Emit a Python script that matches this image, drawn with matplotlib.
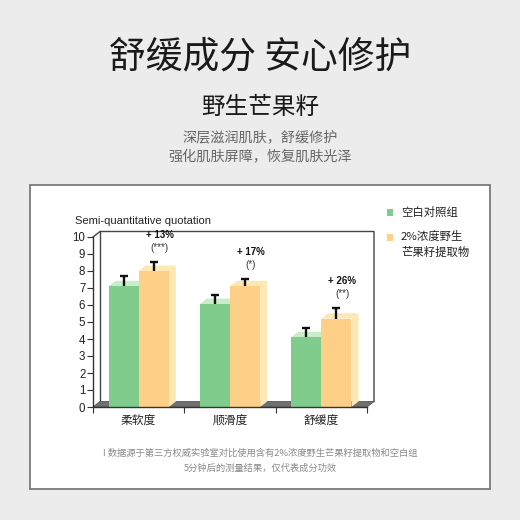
import numpy as np
import matplotlib
matplotlib.use("Agg")
import matplotlib.pyplot as plt
from matplotlib.patches import Rectangle

plt.rcParams['font.family'] = ['Liberation Sans', 'Noto Sans CJK SC', 'DejaVu Sans']

# ---- data ----
categories = ['柔软度', '顺滑度', '舒缓度']
control = [7.1, 6.05, 4.1]
control_err = [0.6, 0.55, 0.55]
extract = [8.0, 7.1, 5.2]
extract_err = [0.55, 0.45, 0.65]
increase_labels = ['+ 13%', '+ 17%', '+ 26%']
significance = ['(***)', '(*)', '(**)']
yticks = list(range(0, 11))
series_names = ['空白对照组', '2%浓度野生\n芒果籽提取物']
title = '舒缓成分 安心修护'
subtitle = '野生芒果籽'
desc_lines = ['深层滋润肌肤，舒缓修护', '强化肌肤屏障，恢复肌肤光泽']
foot_lines = ['I 数据源于第三方权威实验室对比使用含有2%浓度野生芒果籽提取物和空白组',
              '5分钟后的测量结果，仅代表成分功效']
ylabel = 'Semi-quantitative quotation'

# ---- style ----
W = 520.0
green, green_lt = '#80cc8c', '#c9ecca'
orange, orange_lt = '#fecf86', '#fde8b3'
cjk = ['Noto Sans CJK SC', 'DejaVu Sans']

def fx(x):
    return x / W

def fy(y):
    return 1 - y / W

fig = plt.figure(figsize=(5.2, 5.2), dpi=100)
fig.patch.set_facecolor('#ececec')

# white panel
fig.patches.append(Rectangle((fx(30), fy(489)), 460 / W, 304 / W, transform=fig.transFigure,
                             facecolor='white', edgecolor='#7a7a7a', linewidth=1.3, zorder=-5))

fig.text(0.5, fy(57), title, ha='center', va='center', fontsize=26.5, color='#1a1a1a', family=cjk)
fig.text(0.5, fy(107), subtitle, ha='center', va='center', fontsize=17, color='#1a1a1a', family=cjk)
for i, line in enumerate(desc_lines):
    fig.text(0.5, fy(137 + 20 * i), line, ha='center', va='center', fontsize=10.2,
             color='#666666', family=cjk)
for i, line in enumerate(foot_lines):
    fig.text(0.5, fy(453 + 15 * i), line, ha='center', va='center', fontsize=6.7,
             color='#8a8a8a', family=cjk)

# ---- chart axes ----
ax = fig.add_axes([fx(93), fy(407), 274 / W, 170 / W])
ax.set_zorder(2)
ax.set_facecolor('none')
ax.set_xlim(-0.5, 2.5)
ax.set_ylim(0, 10)

n = len(categories)
x = np.arange(n)
w = 0.33
dx = 7 / 91.33
dy = 5.5 / 17.0
xl, xr = -0.5, n - 0.5

# back wall and floor
ax.fill([xl + dx, xr + dx, xr + dx, xl + dx], [dy, dy, 10 + dy, 10 + dy],
        facecolor='white', edgecolor='none', zorder=0.5, clip_on=False)
ax.plot([xl, xl + dx, xr + dx, xr + dx], [10, 10 + dy, 10 + dy, dy], color='#444444',
        lw=1.0, clip_on=False, zorder=1)
ax.plot([xl + dx, xl + dx], [dy, 10 + dy], color='#444444', lw=1.0, clip_on=False, zorder=1)
ax.fill([xl, xr, xr + dx, xl + dx], [0, 0, dy, dy], facecolor='#707070',
        edgecolor='#555555', lw=0.6, zorder=1.5, clip_on=False)

for i in range(n):
    # green bar faces
    x0, x1, h = x[i] - w, x[i], control[i]
    ax.fill([x0, x1, x1 + dx, x0 + dx], [h, h, h + dy, h + dy], color=green_lt, zorder=2, lw=0)
    ax.fill([x1, x1 + dx, x1 + dx, x1], [0, dy, h + dy, h], color=green_lt, zorder=2, lw=0)
    # orange bar faces
    x0, x1, h = x[i], x[i] + w, extract[i]
    ax.fill([x0, x1, x1 + dx, x0 + dx], [h, h, h + dy, h + dy], color=orange_lt, zorder=3.5, lw=0)
    ax.fill([x1, x1 + dx, x1 + dx, x1], [0, dy, h + dy, h], color=orange_lt, zorder=3.5, lw=0)

ax.bar(x - w / 2, control, width=w, color=green, zorder=3, linewidth=0)
ax.bar(x + w / 2, extract, width=w, color=orange, zorder=4, linewidth=0)

# one-sided (upper) error bars
for xs, vals, errs in [(x - w / 2, control, control_err), (x + w / 2, extract, extract_err)]:
    tops = np.array(vals) + np.array(errs)
    ax.vlines(xs, vals, tops, colors='#111111', linewidth=1.7, zorder=5)
    ax.plot(xs, tops, linestyle='none', marker='_', markersize=5.5, markeredgewidth=1.7,
            color='#111111', zorder=5)

for i in range(n):
    top = extract[i] + extract_err[i]
    ax.text(x[i] + 0.23, top + 1.55, increase_labels[i], ha='center', va='center',
            fontsize=7, fontweight='bold', color='#111111', zorder=6)
    ax.text(x[i] + 0.23, top + 0.8, significance[i], ha='center', va='center',
            fontsize=7, color='#333333', zorder=6)

for s in ['top', 'right']:
    ax.spines[s].set_visible(False)
for s in ['left', 'bottom']:
    ax.spines[s].set_color('#333333')
    ax.spines[s].set_linewidth(1.0)
    ax.spines[s].set_zorder(6)

ax.set_yticks(yticks)
ax.set_yticklabels([str(v) for v in yticks], fontsize=8.3, color='#222222')
ax.tick_params(axis='y', direction='out', length=4, width=0.8, pad=1.5, color='#333333')
ax.set_xticks(x)
ax.set_xticklabels(categories, fontsize=8.5, color='#222222', family=cjk, fontweight='medium')
ax.tick_params(axis='x', which='major', length=0, pad=5)
ax.set_xticks(np.arange(n + 1) - 0.5, minor=True)
ax.tick_params(axis='x', which='minor', direction='out', length=4, width=0.8, color='#333333')

fig.text(fx(75), fy(221), ylabel, ha='left', va='center', fontsize=8, color='#222222')

# legend
leg_colors = [green, orange]
leg_y = [212, 237]
for c, yy, name in zip(leg_colors, leg_y, series_names):
    fig.patches.append(Rectangle((fx(386.5), fy(yy + 3.5)), 6.5 / W, 7 / W,
                                 transform=fig.transFigure, facecolor=c, edgecolor='none'))
    for k, part in enumerate(name.split('\n')):
        fig.text(fx(401), fy(yy + 15 * k), part, ha='left', va='center', fontsize=8.2,
                 color='#222222', family=cjk)

fig.savefig('out.png', dpi=100, facecolor=fig.get_facecolor())
